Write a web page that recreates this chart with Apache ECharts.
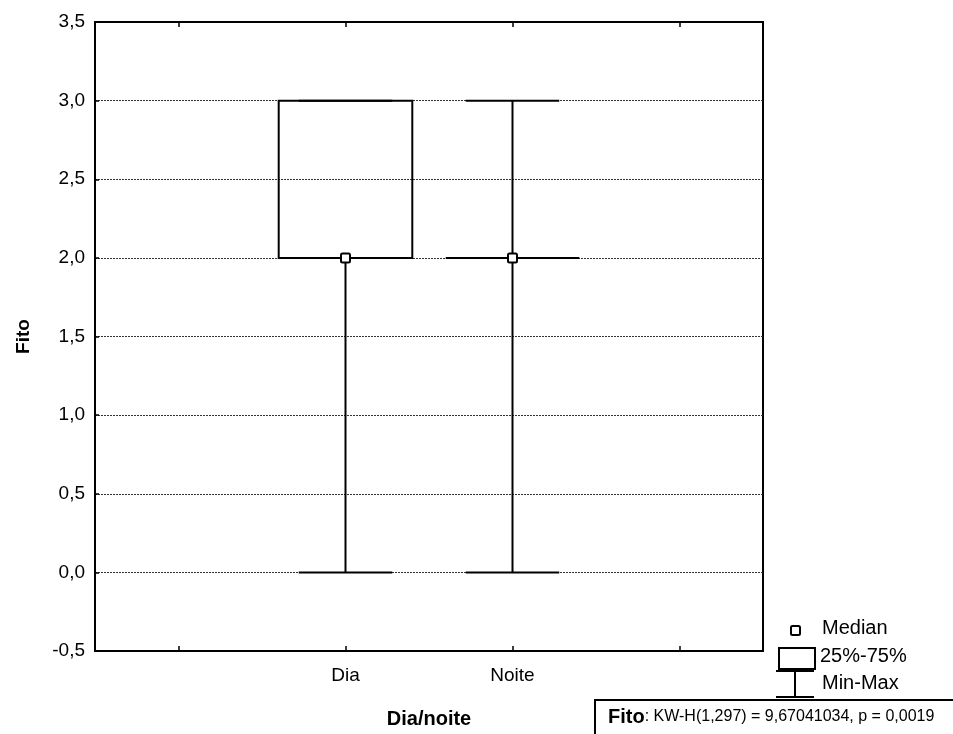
<!DOCTYPE html>
<html>
<head>
<meta charset="utf-8">
<script src="https://cdn.jsdelivr.net/npm/echarts@6/dist/echarts.min.js"></script>
<style>html,body{margin:0;padding:0;background:#fff}#c{width:953px;height:734px}</style>
</head>
<body>
<div id="c"></div>
<script>
const categories = ['', 'Dia', 'Noite', ''];
const groups = ['Dia', 'Noite'];
const minVals = [0, 0];
const q1Vals = [2, 2];
const medianVals = [2, 2];
const q3Vals = [3, 2];
const maxVals = [3, 3];
const yMin = -0.5, yMax = 3.5, yStep = 0.5;
const statsLabel = 'Fito';
const statsText = ': KW-H(1,297) = 9,67041034, p = 0,0019';
const legendLabels = ['Median', '25%-75%', 'Min-Max'];

const FONT = '"Liberation Sans", Arial, sans-serif';
const chart = echarts.init(document.getElementById('c'), null, {renderer: 'canvas'});

const boxData = groups.map((g, i) => [categories.indexOf(g), minVals[i], q1Vals[i], medianVals[i], q3Vals[i], maxVals[i]]);

function renderBox(params, api) {
  const x = api.value(0);
  const bw = api.size([1, 0])[0];
  const pMin = api.coord([x, api.value(1)]);
  const pQ1 = api.coord([x, api.value(2)]);
  const pMed = api.coord([x, api.value(3)]);
  const pQ3 = api.coord([x, api.value(4)]);
  const pMax = api.coord([x, api.value(5)]);
  const cx = pMed[0];
  const hb = bw * 0.4, hc = bw * 0.28;
  const ls = {stroke: '#000', lineWidth: 2, fill: null};
  const ch = [];
  ch.push({type: 'line', shape: {x1: cx, y1: pMax[1], x2: cx, y2: pQ3[1]}, style: ls});
  ch.push({type: 'line', shape: {x1: cx, y1: pQ1[1], x2: cx, y2: pMin[1]}, style: ls});
  ch.push({type: 'line', shape: {x1: cx - hc, y1: pMax[1], x2: cx + hc, y2: pMax[1]}, style: ls});
  ch.push({type: 'line', shape: {x1: cx - hc, y1: pMin[1], x2: cx + hc, y2: pMin[1]}, style: ls});
  ch.push({type: 'rect', shape: {x: cx - hb, y: pQ3[1], width: 2 * hb, height: pQ1[1] - pQ3[1]}, style: {stroke: '#000', lineWidth: 2, fill: 'none'}});
  ch.push({type: 'rect', shape: {x: cx - 4.5, y: pMed[1] - 4.5, width: 9, height: 9, r: 1.5}, style: {stroke: '#000', lineWidth: 2, fill: '#fff'}});
  return {type: 'group', children: ch};
}

const axisLabelStyle = {color: '#000', fontFamily: FONT, fontSize: 19};

const option = {
  animation: false,
  backgroundColor: '#fff',
  grid: {left: 95, right: 190, top: 22, bottom: 83, show: true, borderColor: '#000', borderWidth: 2, backgroundColor: 'transparent'},
  xAxis: [{
    type: 'category', data: categories, boundaryGap: true, position: 'bottom',
    axisLine: {show: true, onZero: false, lineStyle: {color: '#000', width: 2}},
    axisTick: {show: true, inside: true, alignWithLabel: true, length: 5, lineStyle: {color: '#000', width: 1.5}},
    axisLabel: Object.assign({margin: 15}, axisLabelStyle),
    splitLine: {show: false},
    name: 'Dia/noite', nameLocation: 'middle', nameGap: 58,
    nameTextStyle: {color: '#000', fontFamily: FONT, fontSize: 20, fontWeight: 'bold'}
  }, {
    type: 'category', data: categories, boundaryGap: true, position: 'top',
    axisLine: {show: true, onZero: false, lineStyle: {color: '#000', width: 2}},
    axisTick: {show: true, inside: true, alignWithLabel: true, length: 5, lineStyle: {color: '#000', width: 1.5}},
    axisLabel: {show: false}, splitLine: {show: false}
  }],
  yAxis: {
    type: 'value', min: yMin, max: yMax, interval: yStep,
    axisLine: {show: true, onZero: false, lineStyle: {color: '#000', width: 2}},
    axisTick: {show: true, inside: true, length: 4, lineStyle: {color: '#000', width: 1.5}},
    axisLabel: Object.assign({margin: 10, formatter: v => v.toFixed(1).replace('.', ',')}, axisLabelStyle),
    splitLine: {show: true, lineStyle: {color: '#333', width: 1, type: [2, 1]}},
    name: 'Fito', nameLocation: 'middle', nameGap: 62, nameRotate: 90,
    nameTextStyle: {color: '#000', fontFamily: FONT, fontSize: 19, fontWeight: 'bold'}
  },
  series: [{
    type: 'custom', xAxisIndex: 0, renderItem: renderBox,
    encode: {x: 0, y: [1, 2, 3, 4, 5]},
    data: boxData, z: 5
  }],
  graphic: [
    {type: 'rect', left: 790, top: 625, shape: {width: 9, height: 9, r: 1.5}, style: {stroke: '#000', lineWidth: 2, fill: '#fff'}},
    {type: 'text', left: 822, top: 618, style: {text: legendLabels[0], font: '20px ' + FONT, fill: '#000'}},
    {type: 'rect', left: 778, top: 647, shape: {width: 36, height: 21}, style: {stroke: '#000', lineWidth: 2, fill: '#fff'}},
    {type: 'text', left: 820, top: 646, style: {text: legendLabels[1], font: '20px ' + FONT, fill: '#000'}},
    {type: 'line', shape: {x1: 776, y1: 671, x2: 814, y2: 671}, style: {stroke: '#000', lineWidth: 2}},
    {type: 'line', shape: {x1: 795, y1: 671, x2: 795, y2: 697}, style: {stroke: '#000', lineWidth: 2}},
    {type: 'line', shape: {x1: 776, y1: 697, x2: 814, y2: 697}, style: {stroke: '#000', lineWidth: 2}},
    {type: 'text', left: 822, top: 673, style: {text: legendLabels[2], font: '20px ' + FONT, fill: '#000'}},
    {type: 'rect', left: 594, top: 699, shape: {width: 380, height: 50}, style: {stroke: '#000', lineWidth: 2, fill: '#fff'}},
    {type: 'text', left: 608, top: 707, style: {
      text: '{b|' + statsLabel + '}{n|' + statsText + '}',
      rich: {b: {font: 'bold 20px ' + FONT, fill: '#000'}, n: {font: '16px ' + FONT, fill: '#000'}}
    }}
  ]
};
chart.setOption(option);
</script>
</body>
</html>
